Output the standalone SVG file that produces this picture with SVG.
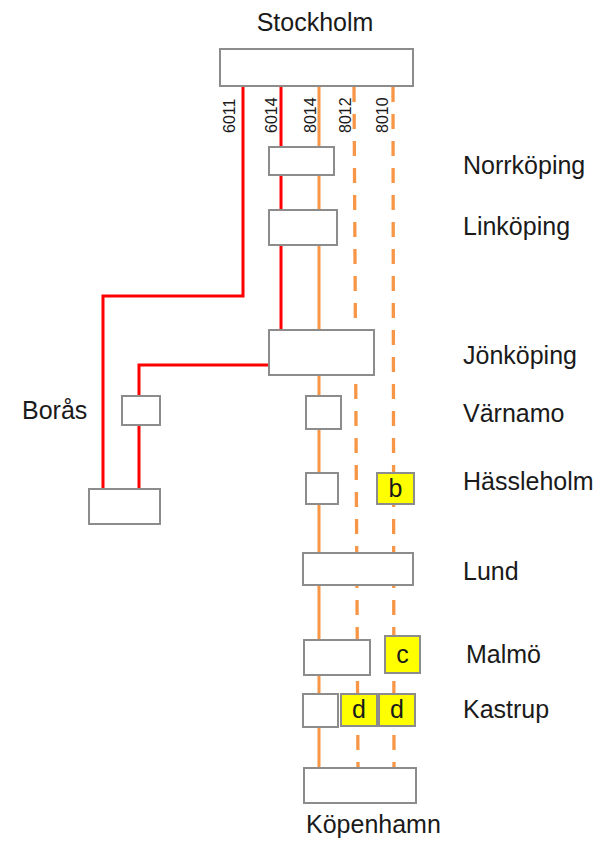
<svg xmlns="http://www.w3.org/2000/svg" width="605" height="842" viewBox="0 0 605 842">
  <style>
    .bg { fill: #ffffff; }
    .box { fill: #ffffff; stroke: #8c8c8c; stroke-width: 2; }
    .ybox { fill: #ffff00; stroke: #8c8c8c; stroke-width: 2; }
    .red { fill: none; stroke: #ff0000; stroke-width: 3; }
    .org { fill: none; stroke: #f79646; stroke-width: 3; }
    .dash { fill: none; stroke: #f79646; stroke-width: 3.3; stroke-dasharray: 15 12; }
    .lbl { font-family: "Liberation Sans", Arial, sans-serif; font-size: 25px; fill: #1a1a1a; }
    .num { font-family: "Liberation Sans", Arial, sans-serif; font-size: 16px; fill: #1a1a1a; }
    .yl { font-family: "Liberation Sans", Arial, sans-serif; font-size: 25px; fill: #1a1a1a; text-anchor: middle; }
  </style>
  <rect class="bg" x="0" y="0" width="605" height="842"/>

  <!-- train routes -->
  <g id="connectors">
    <!-- 6011 -->
    <polyline class="red" points="243,86 243,296 103,296 103,489"/>
    <!-- 6014 -->
    <line class="red" x1="281" y1="86" x2="281" y2="330"/>
    <!-- branch Jönköping - Borås -->
    <polyline class="red" points="269,365 139,365 139,489"/>
    <!-- 8014 -->
    <line class="org" x1="319" y1="86" x2="319" y2="768"/>
    <!-- 8012 -->
    <line class="dash" x1="354" y1="87" x2="358" y2="768"/>
    <!-- 8010 -->
    <line class="dash" x1="393" y1="87" x2="394" y2="768"/>
  </g>

  <!-- train numbers -->
  <g id="train-numbers">
    <text class="num" transform="translate(235,133) rotate(-90)">6011</text>
    <text class="num" transform="translate(277,133) rotate(-90)">6014</text>
    <text class="num" transform="translate(316,133) rotate(-90)">8014</text>
    <text class="num" transform="translate(351,133) rotate(-90)">8012</text>
    <text class="num" transform="translate(388,133) rotate(-90)">8010</text>
  </g>

  <g id="stockholm">
    <rect class="box" x="220" y="49" width="193" height="37"/>
    <text class="lbl" x="315" y="31" text-anchor="middle">Stockholm</text>
  </g>
  <g id="norrkoping">
    <rect class="box" x="269" y="147" width="65" height="28"/>
    <text class="lbl" x="463" y="174">Norrköping</text>
  </g>
  <g id="linkoping">
    <rect class="box" x="269" y="210" width="68" height="35"/>
    <text class="lbl" x="463" y="235">Linköping</text>
  </g>
  <g id="jonkoping">
    <rect class="box" x="269" y="330" width="105" height="45"/>
    <text class="lbl" x="463" y="364">Jönköping</text>
  </g>
  <g id="boras">
    <rect class="box" x="122" y="396" width="38" height="29"/>
    <text class="lbl" x="22" y="419">Borås</text>
  </g>
  <g id="boras-end">
    <rect class="box" x="89" y="489" width="71" height="35"/>
  </g>
  <g id="varnamo">
    <rect class="box" x="306" y="396" width="35" height="33"/>
    <text class="lbl" x="463" y="422">Värnamo</text>
  </g>
  <g id="hassleholm">
    <rect class="box" x="306" y="473" width="32" height="31"/>
    <text class="lbl" x="463" y="490">Hässleholm</text>
  </g>
  <g id="hassleholm-b">
    <rect class="ybox" x="377" y="473" width="37" height="31"/>
    <text class="yl" x="395.5" y="497">b</text>
  </g>
  <g id="lund">
    <rect class="box" x="303" y="553" width="110" height="32"/>
    <text class="lbl" x="463" y="580">Lund</text>
  </g>
  <g id="malmo">
    <rect class="box" x="304" y="640" width="66" height="35"/>
    <text class="lbl" x="466" y="663">Malmö</text>
  </g>
  <g id="malmo-c">
    <rect class="ybox" x="385" y="636" width="35" height="37"/>
    <text class="yl" x="402.5" y="663">c</text>
  </g>
  <g id="kastrup">
    <rect class="box" x="303" y="694" width="35" height="33"/>
    <text class="lbl" x="463" y="718">Kastrup</text>
  </g>
  <g id="kastrup-d1">
    <rect class="ybox" x="341" y="694" width="36" height="32"/>
    <text class="yl" x="359" y="718">d</text>
  </g>
  <g id="kastrup-d2">
    <rect class="ybox" x="379" y="694" width="36" height="32"/>
    <text class="yl" x="397" y="718">d</text>
  </g>
  <g id="kopenhamn">
    <rect class="box" x="304" y="768" width="112" height="35"/>
    <text class="lbl" x="306" y="833">Köpenhamn</text>
  </g>
</svg>
